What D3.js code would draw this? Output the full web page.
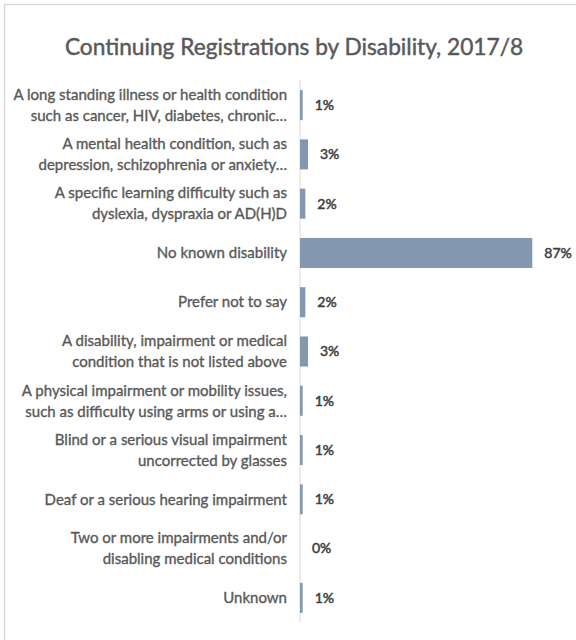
<!DOCTYPE html>
<html>
<head>
<meta charset="utf-8">
<script src="https://cdn.jsdelivr.net/npm/d3@7"></script>
<style>
  html, body { margin: 0; padding: 0; background: #fff; }
  svg { display: block; }
</style>
</head>
<body>
<svg id="chart" width="576" height="640"></svg>
<script>
// Category labels, each split into its display lines
const categories = [
  ["A long standing illness or health condition", "such as cancer, HIV, diabetes, chronic\u2026"],
  ["A mental health condition, such as", "depression, schizophrenia or anxiety\u2026"],
  ["A specific learning difficulty such as", "dyslexia, dyspraxia or AD(H)D"],
  ["No known disability"],
  ["Prefer not to say"],
  ["A disability, impairment or medical", "condition that is not listed above"],
  ["A physical impairment or mobility issues,", "such as difficulty using arms or using a\u2026"],
  ["Blind or a serious visual impairment", "uncorrected by glasses"],
  ["Deaf or a serious hearing impairment"],
  ["Two or more impairments and/or", "disabling medical conditions"],
  ["Unknown"]
];
// Share of continuing registrations (%)
const values = [1, 3, 2, 87, 2, 3, 1, 1, 1, 0, 1];
const title = "Continuing Registrations by Disability, 2017/8";

const svg = d3.select("#chart");
const font = "Lato, 'Noto Sans', sans-serif";

// Outer chart frame
svg.append("rect")
  .attr("x", 4.5).attr("y", 4.5)
  .attr("width", 700).attr("height", 800)
  .attr("fill", "#fff")
  .attr("stroke", "#d9d9d9").attr("stroke-width", 1.5);

svg.append("text")
  .attr("x", 294).attr("y", 55)
  .attr("text-anchor", "middle")
  .attr("font-family", font)
  .attr("font-size", 22.7)
  .attr("fill", "#595959")
  .attr("stroke", "#595959").attr("stroke-width", 0.45)
  .text(title);

const keys = categories.map((c, i) => i);
const y = d3.scaleBand().domain(keys).range([80.5, 622.5]).paddingInner(0.39).paddingOuter(0.195);
const x = d3.scaleLinear().domain([0, 100]).range([300, 567]);

// Category axis line
svg.append("line")
  .attr("x1", x(0)).attr("x2", x(0))
  .attr("y1", 80).attr("y2", 622)
  .attr("stroke", "#d9d9d9").attr("stroke-width", 1);

svg.append("g").selectAll("rect")
  .data(values)
  .join("rect")
  .attr("x", x(0))
  .attr("y", (d, i) => y(i))
  .attr("width", d => x(d) - x(0))
  .attr("height", y.bandwidth())
  .attr("fill", "#8497b0");

// Value labels at bar ends
svg.append("g").selectAll("text")
  .data(values)
  .join("text")
  .attr("x", d => x(d) + 12)
  .attr("y", (d, i) => y(i) + y.bandwidth() / 2)
  .attr("dy", "0.35em")
  .attr("font-family", font)
  .attr("font-size", 14)
  .attr("fill", "#404040")
  .attr("stroke", "#404040").attr("stroke-width", 0.5)
  .text(d => d + "%");

// Category labels, right-aligned against the axis
const lineH = 21;
const lbl = svg.append("g").selectAll("text")
  .data(categories)
  .join("text")
  .attr("text-anchor", "end")
  .attr("font-family", font)
  .attr("font-size", 15)
  .attr("fill", "#595959")
  .attr("stroke", "#595959").attr("stroke-width", 0.35)
  .attr("transform", (d, i) => `translate(287,${y(i) + y.bandwidth() / 2})`);

lbl.selectAll("tspan")
  .data(d => d.map((t, j) => ({ t, j, n: d.length })))
  .join("tspan")
  .attr("x", 0)
  .attr("y", d => (d.j - (d.n - 1) / 2) * lineH)
  .attr("dy", "0.35em")
  .text(d => d.t);
</script>
</body>
</html>
